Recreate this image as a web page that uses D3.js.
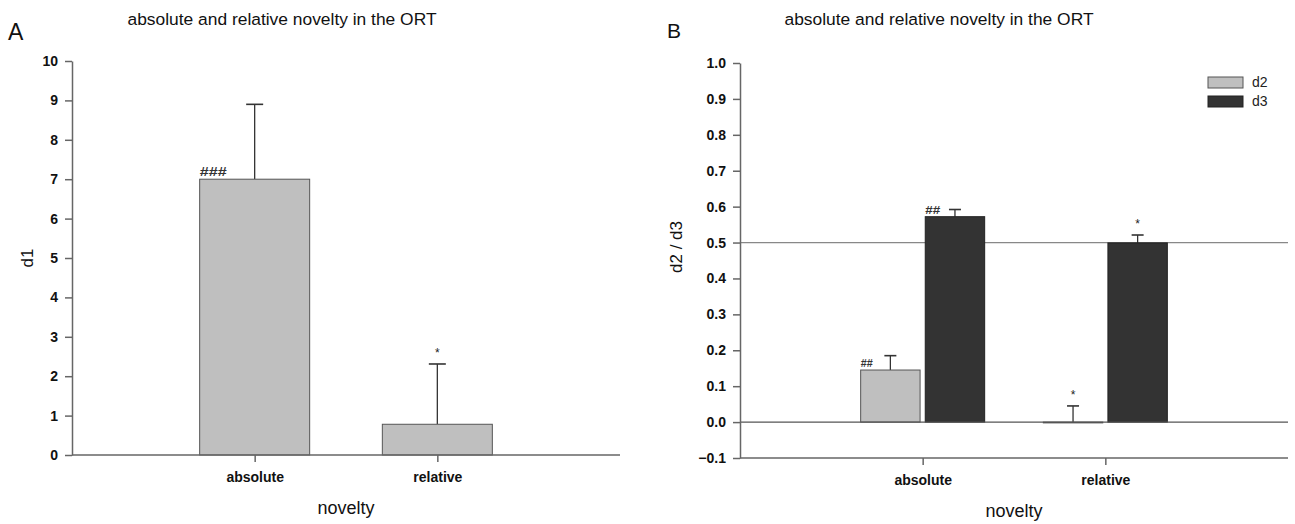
<!DOCTYPE html>
<html>
<head>
<meta charset="utf-8">
<script src="https://cdn.jsdelivr.net/npm/d3@7"></script>
<style>
  body { margin: 0; background: #fff; }
  svg { font-family: "Liberation Sans", Arial, sans-serif; }
  .tick text { font-weight: bold; font-size: 14px; fill: #111; }
  .domain, .tick line { stroke: #666; stroke-width: 1.5; }
</style>
</head>
<body>
<svg id="chart" width="1295" height="524"></svg>
<script>
// ---- data ----
const categories = ["absolute", "relative"];
const d1Mean = [7.0, 0.78];
const d1Sem = [1.9, 1.53];
const d1Marks = ["###", "*"];
const d2Mean = [0.145, -0.002];
const d2Sem = [0.04, 0.045];
const d2Marks = ["##", "*"];
const d3Mean = [0.572, 0.499];
const d3Sem = [0.02, 0.022];
const d3Marks = ["##", "*"];
const yTicksA = [0, 1, 2, 3, 4, 5, 6, 7, 8, 9, 10];
const yTicksB = [-0.1, 0.0, 0.1, 0.2, 0.3, 0.4, 0.5, 0.6, 0.7, 0.8, 0.9, 1.0];
const refLine = 0.5;
const titleText = "absolute and relative novelty in the ORT";
const seriesNames = ["d2", "d3"];
const lightFill = "#bfbfbf", darkFill = "#333333";

const svg = d3.select("#chart");

function drawMark(g, mark, barLeft, barTop, center, errTop, hashSize, hashLen) {
  if (mark.startsWith("#")) {
    g.append("text").attr("x", barLeft).attr("y", barTop - 3)
      .attr("font-size", hashSize).attr("font-weight", "bold")
      .attr("textLength", hashLen).attr("lengthAdjust", "spacingAndGlyphs")
      .attr("fill", "#333").text(mark);
  } else {
    g.append("text").attr("x", center).attr("y", errTop - 7)
      .attr("text-anchor", "middle").attr("font-size", 12)
      .attr("fill", "#222").text(mark);
  }
}

function errorBar(g, x, y0, y1, cap) {
  g.append("line").attr("x1", x).attr("x2", x).attr("y1", y0).attr("y2", y1)
    .attr("stroke", "#333").attr("stroke-width", 1.3);
  g.append("line").attr("x1", x - cap / 2).attr("x2", x + cap / 2).attr("y1", y1).attr("y2", y1)
    .attr("stroke", "#333").attr("stroke-width", 1.6);
}

// ---------------- Panel A ----------------
{
  const left = 72, right = 620, top = 61, bottom = 455;
  const g = svg.append("g");
  const y = d3.scaleLinear().domain([0, 10]).range([bottom, top]);
  const x = d3.scalePoint().domain(categories).range([left, right]).padding(1);
  const bw = 110;

  // bars
  categories.forEach((c, i) => {
    const cx = x(c);
    errorBar(g, cx, y(d1Mean[i]), y(d1Mean[i] + d1Sem[i]), 17);
    g.append("rect").attr("x", cx - bw / 2).attr("y", y(d1Mean[i]))
      .attr("width", bw).attr("height", y(0) - y(d1Mean[i]))
      .attr("fill", lightFill).attr("stroke", "#555").attr("stroke-width", 1);
    drawMark(g, d1Marks[i], cx - bw / 2, y(d1Mean[i]), cx, y(d1Mean[i] + d1Sem[i]), 13, 27);
  });

  g.append("g").attr("transform", `translate(${left},0)`)
    .call(d3.axisLeft(y).tickValues(yTicksA).tickFormat(d3.format("d")).tickSize(7).tickPadding(7).tickSizeOuter(0));
  g.append("g").attr("transform", `translate(0,${bottom})`)
    .call(d3.axisBottom(x).tickSize(7).tickPadding(10).tickSizeOuter(0))
    .call(a => a.select(".domain").attr("d", `M${left},0H${right}`));

  g.append("text").attr("x", 282).attr("y", 25).attr("text-anchor", "middle")
    .attr("font-size", 17.4).attr("fill", "#111").text(titleText);
  g.append("text").attr("x", 8).attr("y", 40).attr("font-size", 23).attr("fill", "#111").text("A");
  g.append("text").attr("transform", `translate(33,258) rotate(-90)`).attr("text-anchor", "middle")
    .attr("font-size", 17).attr("fill", "#111").text("d1");
  g.append("text").attr("x", (left + right) / 2).attr("y", 514).attr("text-anchor", "middle")
    .attr("font-size", 18).attr("fill", "#111").text("novelty");
}

// ---------------- Panel B ----------------
{
  const left = 740, right = 1288, top = 63, bottom = 458;
  const g = svg.append("g");
  const y = d3.scaleLinear().domain([-0.1, 1.0]).range([bottom, top]);
  const x = d3.scalePoint().domain(categories).range([left, right]).padding(1);
  const inner = d3.scaleBand().domain(seriesNames).range([-62, 62]).paddingInner(0.08);
  const means = [d2Mean, d3Mean], sems = [d2Sem, d3Sem], marks = [d2Marks, d3Marks];
  const fills = [lightFill, darkFill], strokes = ["#555", "#222"];

  // reference lines
  g.append("line").attr("x1", left).attr("x2", right).attr("y1", y(refLine)).attr("y2", y(refLine))
    .attr("stroke", "#888").attr("stroke-width", 1.2);

  categories.forEach((c, i) => {
    seriesNames.forEach((s, j) => {
      const bx = x(c) + inner(s), bwid = inner.bandwidth();
      const v = means[j][i], e = sems[j][i];
      const cx = bx + bwid / 2;
      errorBar(g, cx, y(Math.max(v, 0)), y(Math.max(v, 0) + e), 12);
      g.append("rect").attr("x", bx).attr("y", y(Math.max(v, 0)))
        .attr("width", bwid).attr("height", Math.max(Math.abs(y(v) - y(0)), 0.8))
        .attr("fill", fills[j]).attr("stroke", strokes[j]).attr("stroke-width", 1);
      drawMark(g, marks[j][i], bx, y(v), cx, y(Math.max(v, 0) + e), 10, j === 0 ? 12 : 15);
    });
  });

  g.append("line").attr("x1", left).attr("x2", right).attr("y1", y(0)).attr("y2", y(0))
    .attr("stroke", "#555").attr("stroke-width", 1.2);

  g.append("g").attr("transform", `translate(${left},0)`)
    .call(d3.axisLeft(y).tickValues(yTicksB).tickFormat(d3.format(".1f")).tickSize(7).tickPadding(7).tickSizeOuter(0));
  g.append("g").attr("transform", `translate(0,${bottom})`)
    .call(d3.axisBottom(x).tickSize(7).tickPadding(10).tickSizeOuter(0))
    .call(a => a.select(".domain").attr("d", `M${left},0H${right}`));

  // legend
  seriesNames.forEach((s, j) => {
    g.append("rect").attr("x", 1208).attr("y", 77 + j * 19).attr("width", 35).attr("height", 11)
      .attr("fill", fills[j]).attr("stroke", strokes[j]).attr("stroke-width", 1);
    g.append("text").attr("x", 1252).attr("y", 87 + j * 19).attr("font-size", 14)
      .attr("fill", "#222").text(s);
  });

  g.append("text").attr("x", 939).attr("y", 25).attr("text-anchor", "middle")
    .attr("font-size", 17.4).attr("fill", "#111").text(titleText);
  g.append("text").attr("x", 667).attr("y", 38).attr("font-size", 21).attr("fill", "#111").text("B");
  g.append("text").attr("transform", `translate(682,247) rotate(-90)`).attr("text-anchor", "middle")
    .attr("font-size", 17).attr("fill", "#111").text("d2 / d3");
  g.append("text").attr("x", (left + right) / 2).attr("y", 517).attr("text-anchor", "middle")
    .attr("font-size", 18).attr("fill", "#111").text("novelty");
}
</script>
</body>
</html>
